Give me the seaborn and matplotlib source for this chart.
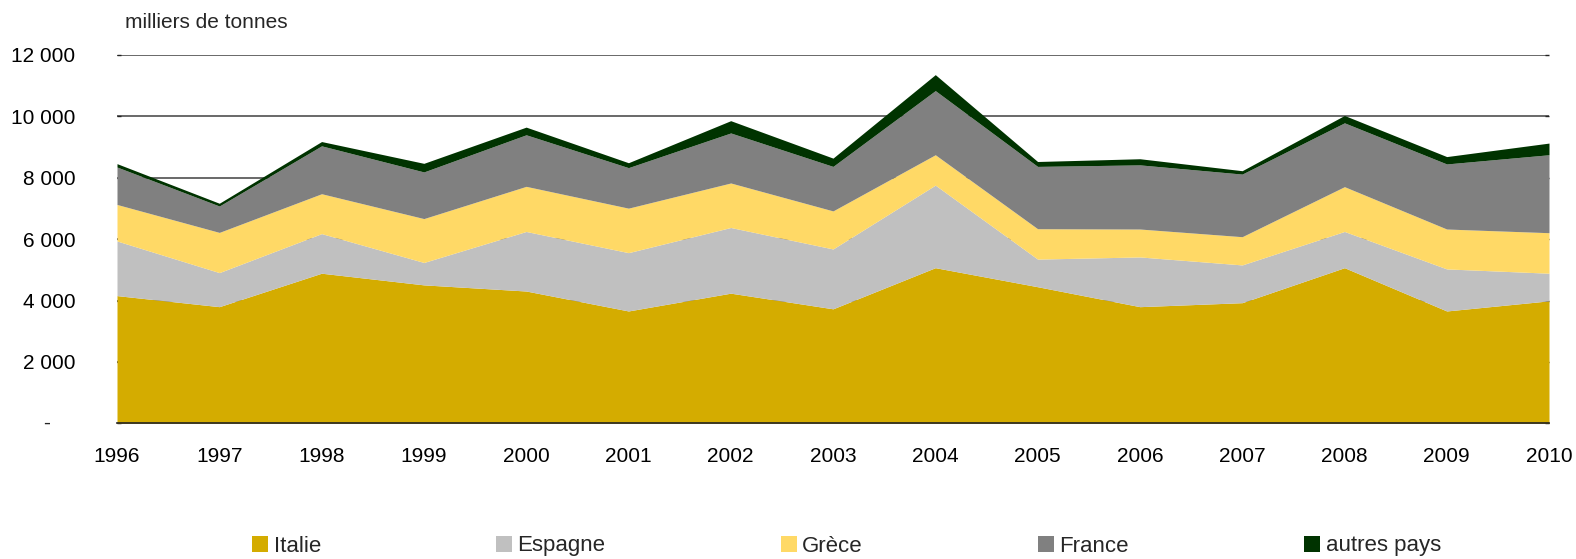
import matplotlib
matplotlib.use("Agg")
import matplotlib.pyplot as plt
from matplotlib.patches import Patch
from matplotlib.ticker import FuncFormatter
import pandas as pd
import seaborn as sns

years = list(range(1996, 2011))

# per-country values (milliers de tonnes)
italie = [4160, 3800, 4890, 4510, 4310, 3660, 4240, 3730, 5070, 4450, 3800, 3930, 5070, 3660, 3990]
espagne = [1780, 1110, 1290, 730, 1940, 1900, 2140, 1950, 2690, 900, 1620, 1230, 1180, 1370, 900]
grece = [1190, 1310, 1300, 1430, 1470, 1450, 1450, 1240, 990, 990, 910, 920, 1460, 1300, 1320]
france = [1220, 860, 1560, 1520, 1680, 1320, 1630, 1450, 2090, 2030, 2090, 2040, 2080, 2120, 2540]
autres = [110, 90, 140, 280, 250, 160, 400, 270, 520, 160, 200, 110, 240, 240, 380]

series_names = ["Italie", "Espagne", "Grèce", "France", "autres pays"]
colors = ["#D4AC00", "#C0C0C0", "#FFD966", "#808080", "#003300"]
y_ticks = [0, 2000, 4000, 6000, 8000, 10000, 12000]

df = pd.DataFrame(
    {"Italie": italie, "Espagne": espagne, "Grèce": grece, "France": france, "autres pays": autres},
    index=years,
)

sns.set_theme(style="white")
plt.rcParams["font.family"] = ["Liberation Sans", "DejaVu Sans"]

fig = plt.figure(figsize=(15.76, 5.59), dpi=100)
ax = fig.add_axes([117 / 1576, 1 - 423.3 / 559, 1432 / 1576, (423.3 - 55) / 559])

ax.stackplot(df.index, [df[c] for c in series_names], colors=colors, linewidth=0, zorder=1)

# grid lines sit behind the areas
for t in y_ticks[1:]:
    ax.axhline(t, color="#404040", linewidth=1.1, zorder=0)

ax.set_xlim(1996, 2010)
ax.set_ylim(0, 12000)
ax.set_xticks(years)
ax.set_yticks(y_ticks)
ax.yaxis.set_major_formatter(
    FuncFormatter(lambda v, _: "" if v == 0 else f"{int(v):,}".replace(",", " "))
)
ax.text(-0.049, 0, "-", transform=ax.get_yaxis_transform(), ha="center", va="center", fontsize=15)

for side in ["top", "left", "right"]:
    ax.spines[side].set_visible(False)
ax.spines["bottom"].set_color("#222222")
ax.spines["bottom"].set_linewidth(1.2)
ax.spines["bottom"].set_zorder(3)

ax.tick_params(axis="x", direction="in", length=5, width=1, color="#222222", pad=17, labelsize=15)
ax.tick_params(axis="y", direction="in", length=3, width=1, color="#222222", pad=30, labelsize=15,
               left=True, right=True)
for lab in ax.get_xticklabels() + ax.get_yticklabels():
    lab.set_color("black")

fig.text(125 / 1576, 1 - 22 / 559, "milliers de tonnes", ha="left", va="center", fontsize=15)

handles = [Patch(facecolor=c, edgecolor="none") for c in colors]
fig.legend(
    handles, series_names, loc="center", bbox_to_anchor=(0.5372, 1 - 546 / 559), ncol=5,
    frameon=False, fontsize=16, handlelength=0.7, handleheight=0.7, handletextpad=0.25,
    columnspacing=7.9,
)

fig.savefig("out.png", dpi=100)
